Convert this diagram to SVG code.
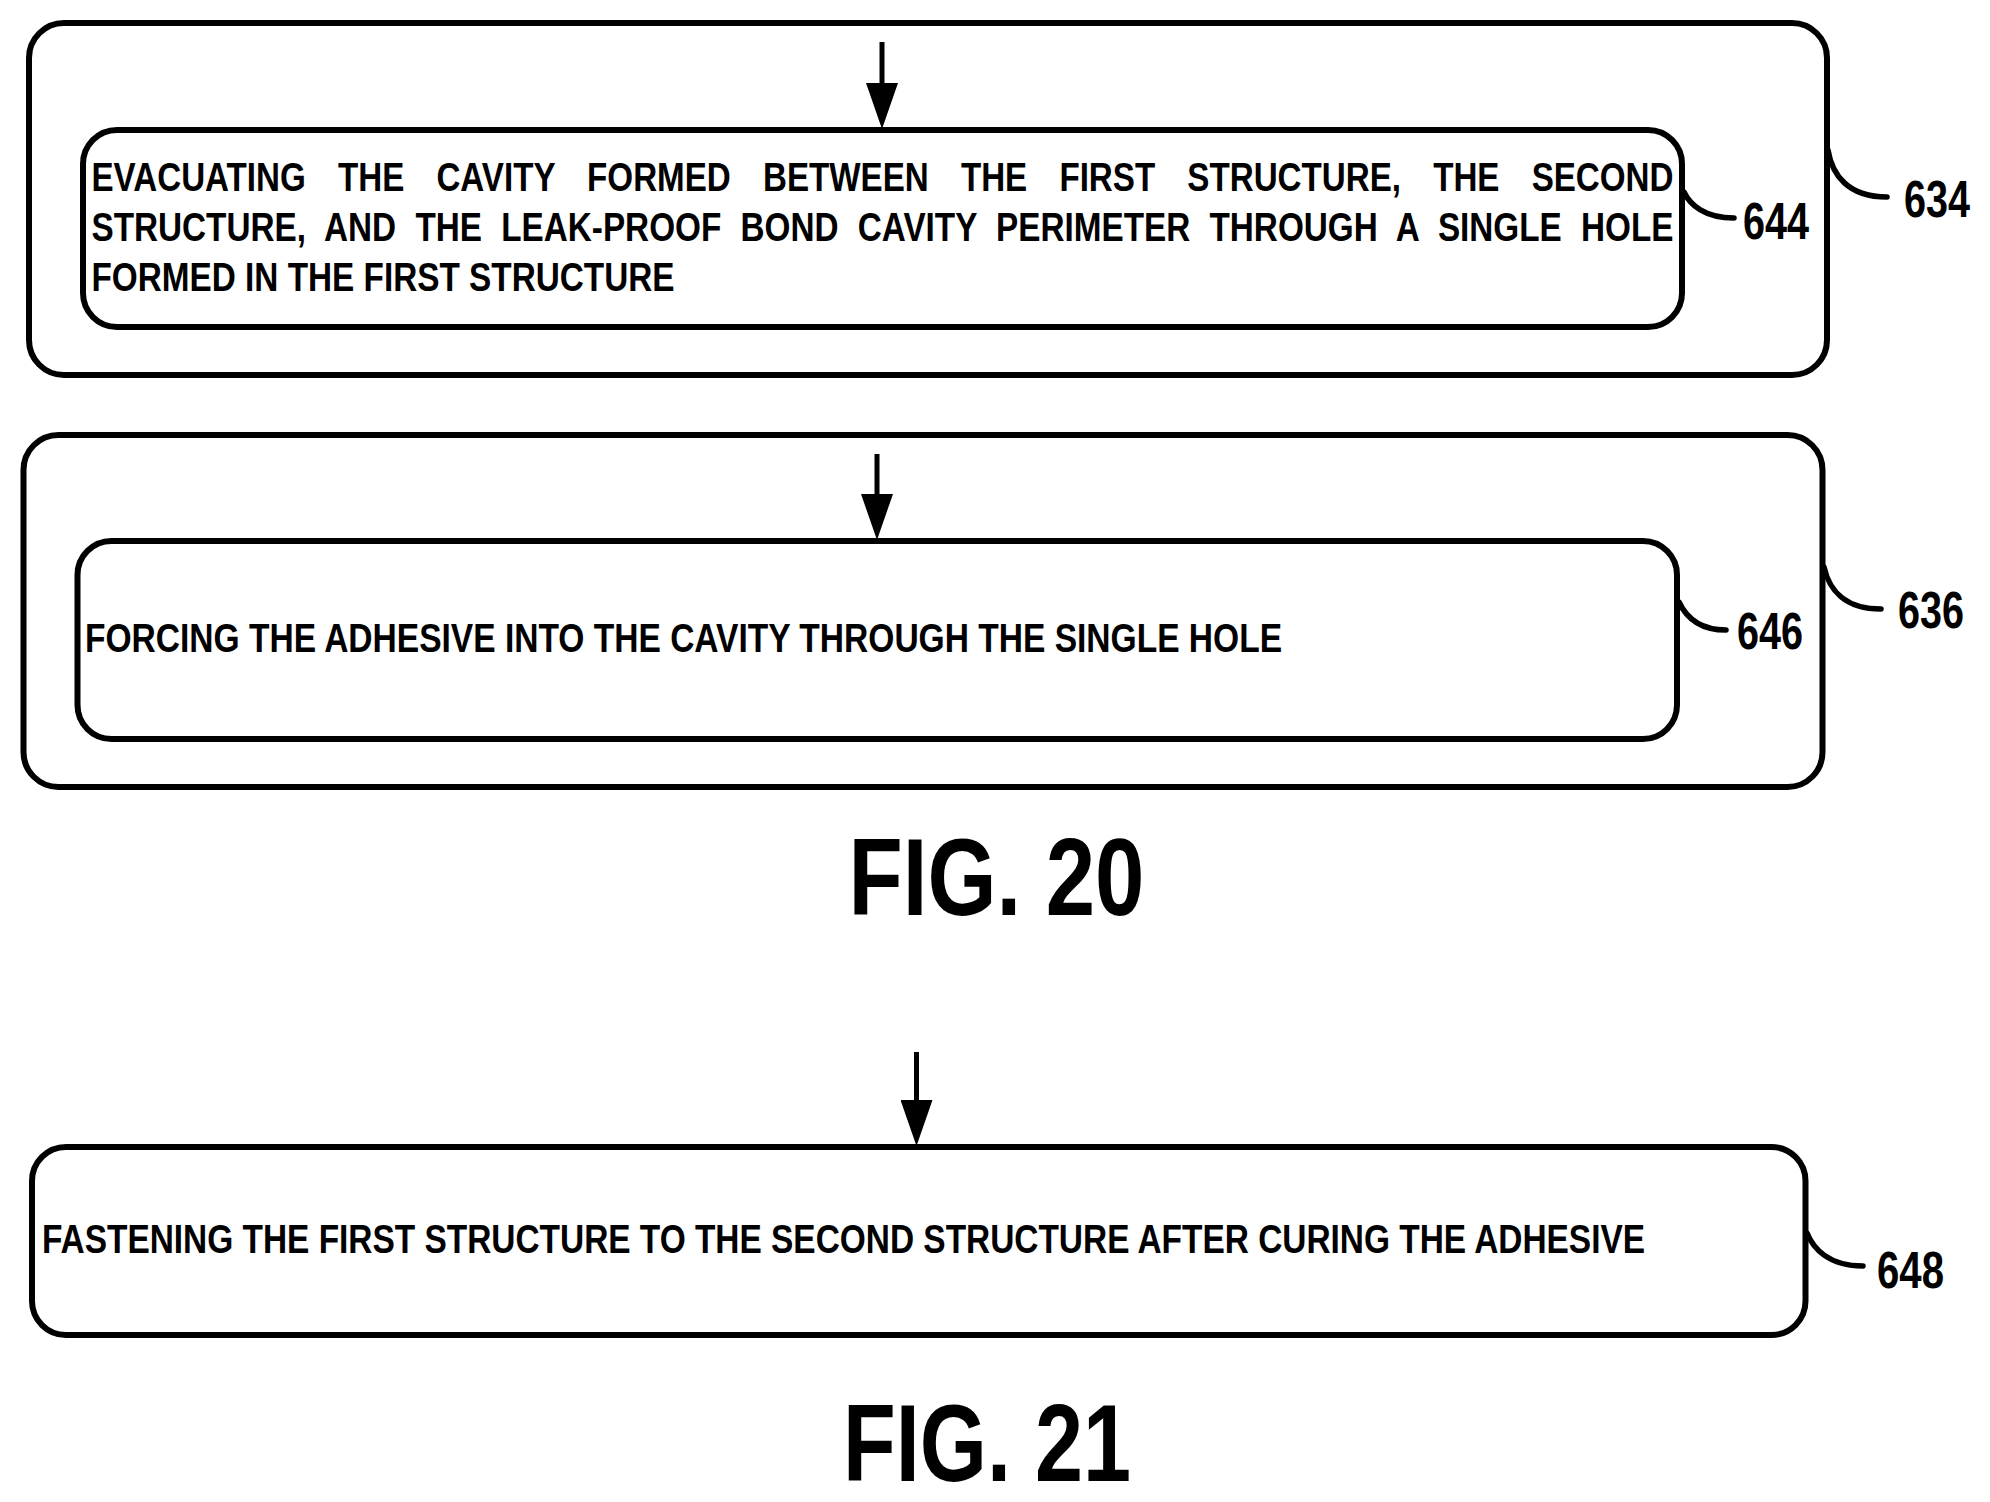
<svg xmlns="http://www.w3.org/2000/svg" width="1990" height="1502" viewBox="0 0 1990 1502">
<style>
.box{fill:none;stroke:#000;stroke-width:6}
.lead{fill:none;stroke:#000;stroke-width:5.5;stroke-linecap:round}
.arrow{fill:none;stroke:#000;stroke-width:5;marker-end:url(#head)}
text{font-family:"Liberation Sans",Arial,sans-serif;font-weight:700;fill:#000}
.t{font-size:40px}
.n{font-size:51px}
.fig{font-size:109px}
</style>
<defs>
<marker id="head" markerUnits="userSpaceOnUse" viewBox="0 0 46 32" markerWidth="46" markerHeight="32" refX="24" refY="16" orient="auto">
<path d="M0 0L46 16L0 32Z" fill="#000"/>
</marker>
</defs>
<rect width="1990" height="1502" fill="#fff"/>
<g id="node-634">
<rect class="box" x="29" y="23" width="1798" height="352" rx="35" ry="35"/>
<text class="n" x="1904" y="217" textLength="66" lengthAdjust="spacingAndGlyphs">634</text>
</g>
<g id="node-644">
<rect class="box" x="83" y="130" width="1599" height="197" rx="34" ry="34"/>
<text class="t" x="91.5" y="191" word-spacing="27.7" textLength="1582" lengthAdjust="spacingAndGlyphs">EVACUATING THE CAVITY FORMED BETWEEN THE FIRST STRUCTURE, THE SECOND</text>
<text class="t" x="91.5" y="241" word-spacing="12.1" textLength="1582" lengthAdjust="spacingAndGlyphs">STRUCTURE, AND THE LEAK-PROOF BOND CAVITY PERIMETER THROUGH A SINGLE HOLE</text>
<text class="t" x="91.5" y="291" textLength="583" lengthAdjust="spacingAndGlyphs">FORMED IN THE FIRST STRUCTURE</text>
<text class="n" x="1743" y="239" textLength="66" lengthAdjust="spacingAndGlyphs">644</text>
</g>
<g id="node-636">
<rect class="box" x="23.5" y="435" width="1799" height="352" rx="35" ry="35"/>
<text class="n" x="1898" y="628" textLength="66" lengthAdjust="spacingAndGlyphs">636</text>
</g>
<g id="node-646">
<rect class="box" x="77.5" y="541" width="1599.5" height="198" rx="34" ry="34"/>
<text class="t" x="85" y="652" textLength="1197" lengthAdjust="spacingAndGlyphs">FORCING THE ADHESIVE INTO THE CAVITY THROUGH THE SINGLE HOLE</text>
<text class="n" x="1737" y="649" textLength="66" lengthAdjust="spacingAndGlyphs">646</text>
</g>
<g id="node-648">
<rect class="box" x="32" y="1147" width="1773.5" height="188" rx="34" ry="34"/>
<text class="t" x="42" y="1253" textLength="1603" lengthAdjust="spacingAndGlyphs">FASTENING THE FIRST STRUCTURE TO THE SECOND STRUCTURE AFTER CURING THE ADHESIVE</text>
<text class="n" x="1877" y="1288" textLength="67" lengthAdjust="spacingAndGlyphs">648</text>
</g>
<g id="connectors">
<line class="arrow" x1="882" y1="42" x2="882" y2="107"/>
<line class="arrow" x1="877" y1="454" x2="877" y2="518"/>
<line class="arrow" x1="916.5" y1="1052" x2="916.5" y2="1124"/>
<path class="lead" d="M1828 150C1832 175 1848 197 1887 197"/>
<path class="lead" d="M1684 192C1690 205 1705 218 1734 218"/>
<path class="lead" d="M1824 567C1829 590 1845 609 1881 609"/>
<path class="lead" d="M1679 602C1685 615 1698 630 1726 630"/>
<path class="lead" d="M1807 1233C1813 1248 1828 1266 1863 1266"/>
</g>
<g id="captions">
<text class="fig" x="848.5" y="915" textLength="296" lengthAdjust="spacingAndGlyphs">FIG. 20</text>
<text class="fig" x="843" y="1481" textLength="288" lengthAdjust="spacingAndGlyphs">FIG. 21</text>
</g>
</svg>
